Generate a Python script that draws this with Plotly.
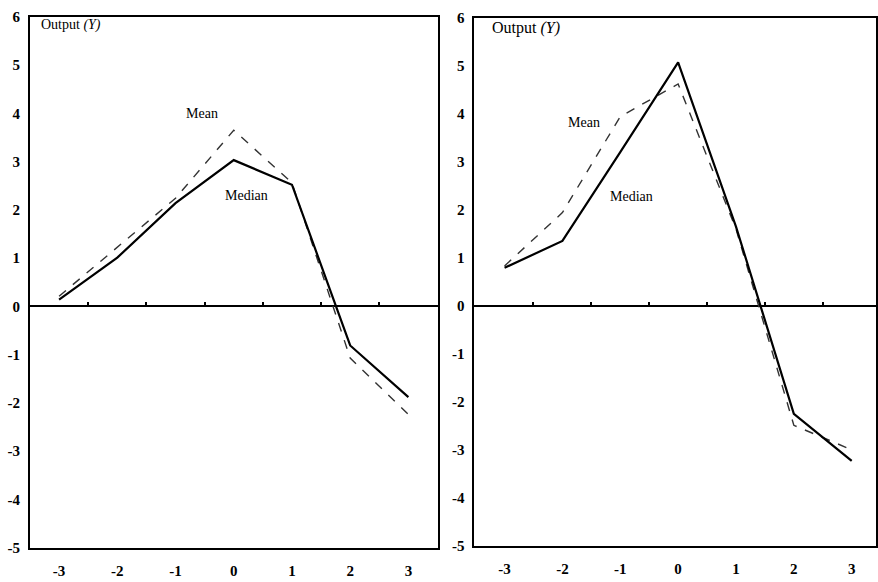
import plotly.graph_objects as go

x_vals = [-3, -2, -1, 0, 1, 2, 3]
x_labels = ["-3", "-2", "-1", "0", "1", "2", "3"]
left_median = [0.14, 1.01, 2.14, 3.03, 2.52, -0.81, -1.88]
left_mean = [0.21, 1.22, 2.24, 3.65, 2.56, -1.07, -2.24]
right_median = [0.79, 1.35, 3.2, 5.07, 1.65, -2.25, -3.23]
right_mean = [0.83, 1.94, 3.94, 4.62, 1.6, -2.49, -3.0]
y_ticks = [-5, -4, -3, -2, -1, 0, 1, 2, 3, 4, 5, 6]
y_labels = ["-5", "-4", "-3", "-2", "-1", "0", "1", "2", "3", "4", "5", "6"]
minor_ticks = [-2.5, -1.5, -0.5, 0.5, 1.5, 2.5]

W, H = 878, 582
FONT = "Liberation Serif, Times New Roman, serif"

fig = go.Figure()

dash_style = dict(color="#333333", width=1.4, dash="dash")
solid_style = dict(color="black", width=2.2)

fig.add_trace(go.Scatter(x=x_vals, y=left_mean, mode="lines", line=dash_style, xaxis="x", yaxis="y"))
fig.add_trace(go.Scatter(x=x_vals, y=left_median, mode="lines", line=solid_style, xaxis="x", yaxis="y"))
fig.add_trace(go.Scatter(x=x_vals, y=right_mean, mode="lines", line=dash_style, xaxis="x2", yaxis="y2"))
fig.add_trace(go.Scatter(x=x_vals, y=right_median, mode="lines", line=solid_style, xaxis="x2", yaxis="y2"))
# invisible carriers so the tick-mark axes on the zero line are drawn
fig.add_trace(go.Scatter(x=minor_ticks, y=[0] * len(minor_ticks), mode="markers",
                         marker=dict(opacity=0), hoverinfo="skip", xaxis="x3", yaxis="y"))
fig.add_trace(go.Scatter(x=minor_ticks, y=[0] * len(minor_ticks), mode="markers",
                         marker=dict(opacity=0), hoverinfo="skip", xaxis="x4", yaxis="y2"))

# panel pixel geometry
L1 = (30, 438); T1 = (9, 555)
L2 = (475, 877); T2 = (10, 553)
R1 = [-3.5, 3.5]
R2 = [-3.52, 3.42]

def xd(p):
    return [p[0] / W, p[1] / W]

def yd(p):
    return [1 - p[1] / H, 1 - p[0] / H]

yd1 = yd(T1)
yd2 = yd(T2)
zero1 = yd1[0] + (yd1[1] - yd1[0]) * 5 / 11
zero2 = yd2[0] + (yd2[1] - yd2[0]) * 5 / 11

tickfont = dict(family=FONT, size=15, color="black", weight="bold")

common_x = dict(tickvals=x_vals, ticktext=x_labels, ticks="", showgrid=False,
                zeroline=False, showline=True, mirror=True, linecolor="black", linewidth=2,
                tickfont=tickfont, ticklabelstandoff=8)
common_y = dict(range=[-5, 6], tickvals=y_ticks, ticktext=y_labels, ticks="", showgrid=False,
                zeroline=True, zerolinecolor="black", zerolinewidth=1.5, showline=True, mirror=True,
                linecolor="black", linewidth=2, tickfont=tickfont, ticklabelstandoff=5)

minor_x = dict(tickvals=minor_ticks, ticks="inside", ticklen=4, tickwidth=1.5,
               tickcolor="black", showticklabels=False, showline=False, showgrid=False,
               zeroline=False, anchor="free", side="bottom")

fig.update_layout(
    width=W, height=H, margin=dict(l=0, r=0, t=0, b=0),
    paper_bgcolor="white", plot_bgcolor="white", showlegend=False,
    font=dict(family=FONT, color="black"),
    xaxis=dict(domain=xd(L1), anchor="y", range=R1, **common_x),
    yaxis=dict(domain=yd1, anchor="x", **common_y),
    xaxis2=dict(domain=xd(L2), anchor="y2", range=R2, **common_x),
    yaxis2=dict(domain=yd2, anchor="x2", **common_y),
    xaxis3=dict(domain=xd(L1), overlaying="x", position=zero1, range=R1, **minor_x),
    xaxis4=dict(domain=xd(L2), overlaying="x2", position=zero2, range=R2, **minor_x),
)

ann_font_s = dict(family=FONT, size=14, color="black")
ann_font_l = dict(family=FONT, size=16, color="black")
fig.add_annotation(x=-3.35, y=5.82, xref="x", yref="y", text="Output <i>(Y)</i>", showarrow=False,
                   xanchor="left", font=ann_font_s)
fig.add_annotation(x=-0.55, y=4.0, xref="x", yref="y", text="Mean", showarrow=False, font=ann_font_s)
fig.add_annotation(x=0.22, y=2.29, xref="x", yref="y", text="Median", showarrow=False, font=ann_font_s)
fig.add_annotation(x=-3.25, y=5.78, xref="x2", yref="y2", text="Output <i>(Y)</i>", showarrow=False,
                   xanchor="left", font=ann_font_l)
fig.add_annotation(x=-1.63, y=3.82, xref="x2", yref="y2", text="Mean", showarrow=False, font=ann_font_s)
fig.add_annotation(x=-0.8, y=2.27, xref="x2", yref="y2", text="Median", showarrow=False, font=ann_font_s)

page_css = (
    "document.documentElement.style.cssText='margin:0;padding:0;overflow:hidden;height:582px;';"
    "document.body.style.cssText='margin:0;padding:0;overflow:hidden;height:582px;';"
)
fig.write_html("out.html", post_script=page_css, config={"displayModeBar": False})
